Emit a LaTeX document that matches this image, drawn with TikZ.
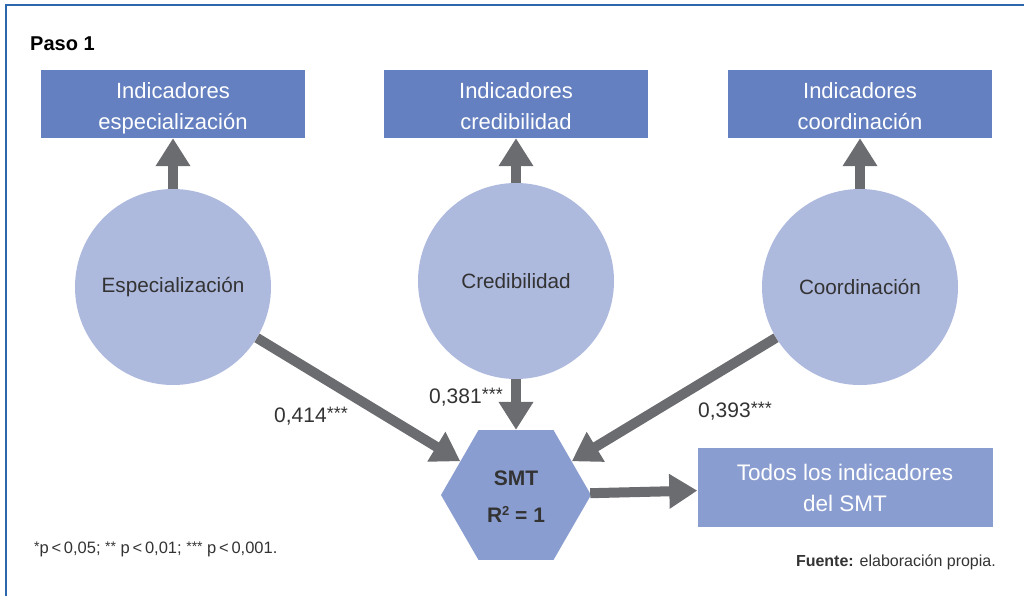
\documentclass[tikz,border=0pt]{standalone}
\usepackage{fontspec}
\setmainfont{Liberation Sans}
\usetikzlibrary{shapes.geometric,arrows.meta}
\definecolor{frameblue}{HTML}{2C66AC}
\definecolor{boxdark}{HTML}{6480C0}
\definecolor{boxlight}{HTML}{8A9DD0}
\definecolor{circfill}{HTML}{AEB9DE}
\definecolor{arrgray}{HTML}{6B6C6F}
\definecolor{txt}{HTML}{333333}
% raised asterisks for significance marks
\newcommand{\supr}[2]{\raisebox{0.12em}{\fontsize{#1}{#1}\selectfont #2}}
\tikzset{
  topbox/.style={draw=none, fill=boxdark, minimum width=264pt, minimum height=68pt,
    align=center, text=white, font=\fontsize{22}{31}\selectfont, inner sep=0pt,
    text height=50pt, text depth=0pt},
  latent/.style={circle, fill=circfill, minimum size=196pt, inner sep=0pt,
    text=txt, font=\fontsize{20.7}{24}\selectfont},
  hexa/.style={regular polygon, regular polygon sides=6, fill=boxlight, minimum size=150pt,
    inner sep=0pt, align=center, text=txt, font=\bfseries\fontsize{21}{37}\selectfont,
    text height=54pt, text depth=0pt},
  outbox/.style={fill=boxlight, minimum width=295pt, minimum height=79pt, inner sep=0pt,
    align=center, text=white, font=\fontsize{22.5}{31}\selectfont,
    text height=48pt, text depth=0pt},
  arr/.style={draw=arrgray, line width=10pt, -{Triangle[width=33pt,length=28pt]}},
  coef/.style={text=txt, font=\fontsize{21}{24}\selectfont, inner sep=0pt},
}
\begin{document}
\begin{tikzpicture}[x=1pt,y=-1pt]
\useasboundingbox (0,0) rectangle (1024,595);
% frame
\draw[frameblue, line width=2.2pt] (6,596) -- (6,5) -- (1025,5);
% title
\node[anchor=west, text=black, font=\bfseries\fontsize{20}{22}\selectfont, inner sep=0pt] (title) at (30,44) {Paso 1};
% indicator boxes
\node[topbox] (b1) at (173,104) {Indicadores\\especialización};
\node[topbox] (b2) at (516,104) {Indicadores\\credibilidad};
\node[topbox] (b3) at (860,104) {Indicadores\\coordinación};
% latent constructs
\node[latent] (c1) at (173,287) {Especialización};
\node[latent] (c2) at (516,281) {Credibilidad};
\node[latent] (c3) at (860,287) {Coordinación};
% outcome
\node[hexa] (hex) at (516,495) {SMT\\R{\fontsize{13}{13}\selectfont\raisebox{0.5em}{2}} = 1};
\node[outbox] (rb) at (845,487) {Todos los indicadores\\del SMT};
% connectors
\draw[arr] (c1) -- (b1);
\draw[arr] (c2) -- (b2);
\draw[arr] (c3) -- (b3);
\draw[arr] (c1) -- (hex);
\draw[arr] (c2) -- (hex);
\draw[arr] (c3) -- (hex);
\draw[arr] (hex) -- (rb);
% path coefficients
\node[coef] (k1) at (311,416) {0,414\supr{18}{***}};
\node[coef] (k2) at (466,397) {0,381\supr{18}{***}};
\node[coef] (k3) at (735,411) {0,393\supr{18}{***}};
% notes
\node[anchor=west, text=txt, font=\fontsize{16.5}{19}\selectfont, inner sep=0pt] (note) at (34,549)
  {\supr{14}{*}p\,<\,0,05; \supr{14}{**} p\,<\,0,01; \supr{14}{***} p\,<\,0,001.};
\node[anchor=east, text=txt, font=\fontsize{16}{19}\selectfont, inner sep=0pt] (src) at (996,562)
  {\textbf{Fuente:} elaboración propia.};
\end{tikzpicture}
\end{document}
